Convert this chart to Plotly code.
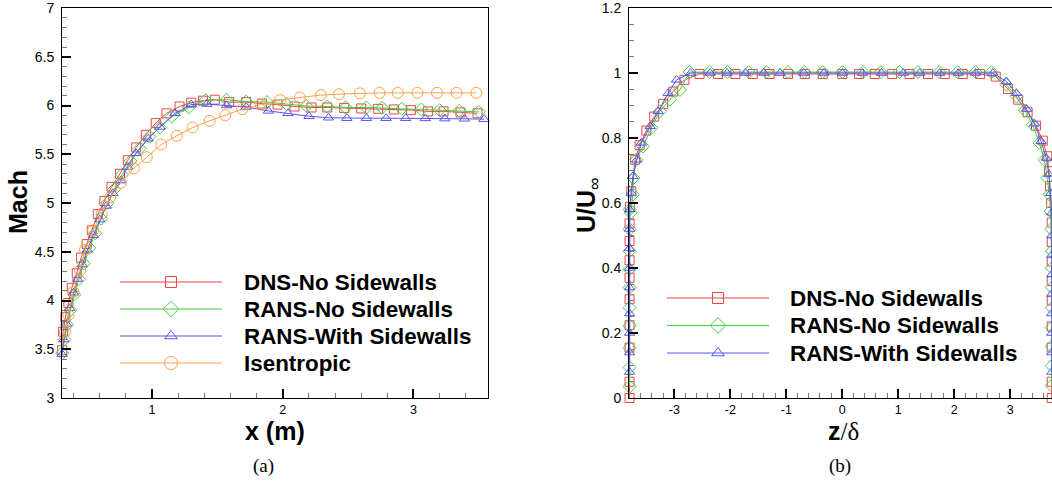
import plotly.graph_objects as go

# ---------------- data: panel (a)  Mach vs x (m) ----------------
dns_x = [0.312, 0.32, 0.337, 0.36, 0.386, 0.424, 0.457, 0.50, 0.539, 0.585, 0.635, 0.69, 0.755, 0.814,
         0.878, 0.952, 1.028, 1.11, 1.21, 1.30, 1.39, 1.48, 1.59, 1.72, 1.84, 1.96, 2.09, 2.22, 2.34,
         2.47, 2.60, 2.73, 2.85, 2.98, 3.11, 3.23, 3.36, 3.49]
dns_m = [3.49, 3.68, 3.83, 3.975, 4.13, 4.28, 4.44, 4.58, 4.72, 4.886, 5.02, 5.166, 5.30, 5.44,
         5.57, 5.70, 5.82, 5.92, 5.99, 6.03, 6.05, 6.06, 6.035, 6.035, 6.02, 6.01, 5.99, 5.98, 5.98,
         5.975, 5.97, 5.966, 5.96, 5.953, 5.94, 5.94, 5.93, 5.92]

rns_x = [0.312, 0.33, 0.35, 0.375, 0.405, 0.44, 0.478, 0.52, 0.565, 0.61, 0.658, 0.71, 0.77, 0.835,
         0.905, 0.98, 1.06, 1.15, 1.28, 1.41, 1.57, 1.72, 1.88, 2.03, 2.18, 2.34, 2.48, 2.64, 2.76,
         2.91, 3.06, 3.20, 3.35, 3.50]
rns_m = [3.46, 3.60, 3.75, 3.90, 4.06, 4.22, 4.38, 4.54, 4.69, 4.84, 5.00, 5.14, 5.29, 5.43,
         5.56, 5.68, 5.775, 5.885, 5.98, 6.055, 6.06, 6.04, 6.035, 6.015, 5.995, 5.99, 5.98, 5.98, 5.977,
         5.966, 5.96, 5.953, 5.946, 5.935]

rsw_x = [0.312, 0.325, 0.345, 0.37, 0.40, 0.43, 0.465, 0.505, 0.55, 0.60, 0.65, 0.70, 0.76, 0.815,
         0.878, 0.97, 1.06, 1.176, 1.30, 1.42, 1.57, 1.72, 1.89, 2.04, 2.20, 2.35, 2.49, 2.64, 2.79,
         2.94, 3.09, 3.24, 3.39, 3.54]
rsw_m = [3.45, 3.60, 3.76, 3.92, 4.08, 4.22, 4.37, 4.52, 4.67, 4.83, 4.97, 5.10, 5.23, 5.37,
         5.51, 5.66, 5.78, 5.92, 6.01, 6.015, 6.00, 5.985, 5.945, 5.92, 5.89, 5.875, 5.87, 5.87, 5.87,
         5.87, 5.868, 5.866, 5.864, 5.86]

ise_x = [0.305, 0.334, 0.36, 0.398, 0.449, 0.487, 0.55, 0.615, 0.68, 0.76, 0.86, 0.96, 1.07, 1.19,
         1.31, 1.44, 1.56, 1.69, 1.83, 1.98, 2.13, 2.29, 2.43, 2.59, 2.74, 2.88, 3.03, 3.18, 3.33, 3.48]
ise_m = [3.50, 3.68, 3.85, 4.09, 4.31, 4.52, 4.72, 4.89, 5.06, 5.207, 5.355, 5.47, 5.60, 5.69,
         5.775, 5.843, 5.90, 5.963, 6.01, 6.056, 6.083, 6.107, 6.117, 6.125, 6.13, 6.13, 6.13, 6.13, 6.13, 6.13]

# ---------------- data: panel (b)  U/Uinf vs z/delta ----------------
dns_z = [-3.80, -3.80, -3.80, -3.80, -3.80, -3.80, -3.80, -3.80, -3.80, -3.795, -3.77, -3.70, -3.62,
         -3.50, -3.36, -3.20, -3.02, -2.82, -2.55, -2.22, -1.91, -1.60, -1.30, -0.97, -0.67, -0.35,
         0.0, 0.30, 0.58, 0.89, 1.20, 1.53, 1.83, 2.15, 2.46, 2.74, 2.96, 3.14, 3.31, 3.46, 3.58,
         3.66, 3.69, 3.71, 3.73, 3.74, 3.74, 3.74, 3.74, 3.74, 3.74, 3.74, 3.74, 3.74]
dns_u = [0.0, 0.05, 0.155, 0.224, 0.304, 0.37, 0.424, 0.483, 0.537, 0.588, 0.636, 0.733, 0.778,
         0.823, 0.866, 0.905, 0.943, 0.979, 0.997, 0.997, 0.997, 0.997, 0.997, 0.997, 0.997, 0.997,
         0.997, 0.997, 0.997, 0.997, 0.997, 0.997, 0.997, 0.997, 0.997, 0.989, 0.951, 0.918, 0.879,
         0.838, 0.792, 0.744, 0.698, 0.652, 0.60, 0.54, 0.48, 0.42, 0.36, 0.30, 0.22, 0.155, 0.05, 0.0]

rns_z = [-3.80, -3.80, -3.80, -3.80, -3.80, -3.80, -3.80, -3.80, -3.80, -3.80, -3.78, -3.74, -3.73,
         -3.68, -3.56, -3.41, -3.26, -3.08, -2.90, -2.73, -2.37, -2.05, -1.67, -1.35, -0.97, -0.68,
         -0.35, 0.0, 0.37, 0.69, 1.02, 1.35, 1.73, 2.06, 2.38, 2.66, 2.93, 3.11, 3.26, 3.40, 3.52,
         3.61, 3.66, 3.70, 3.72, 3.73, 3.74, 3.74, 3.74, 3.74, 3.74, 3.74, 3.74, 3.74]
rns_u = [0.035, 0.094, 0.155, 0.222, 0.278, 0.34, 0.396, 0.452, 0.519, 0.58, 0.57, 0.626, 0.677,
         0.733, 0.774, 0.831, 0.882, 0.918, 0.948, 1.003, 1.003, 1.003, 1.003, 1.003, 1.003, 1.003,
         1.003, 1.003, 1.003, 1.003, 1.003, 1.003, 1.003, 1.003, 1.003, 1.003, 0.964, 0.928, 0.885,
         0.841, 0.785, 0.733, 0.677, 0.626, 0.575, 0.52, 0.452, 0.40, 0.34, 0.278, 0.217, 0.159, 0.099, 0.038]

rsw_z = [-3.80, -3.80, -3.80, -3.80, -3.80, -3.80, -3.80, -3.80, -3.80, -3.77, -3.74, -3.67, -3.59,
         -3.43, -3.29, -3.11, -2.96, -2.71, -2.36, -2.06, -1.73, -1.40, -1.11, -0.69, -0.33, 0.0,
         0.36, 0.70, 1.09, 1.38, 1.74, 2.07, 2.38, 2.69, 2.93, 3.11, 3.29, 3.43, 3.55, 3.64, 3.69,
         3.72, 3.74, 3.74, 3.74, 3.74, 3.74, 3.74, 3.74, 3.74, 3.74]
rsw_u = [0.08, 0.14, 0.20, 0.26, 0.34, 0.40, 0.46, 0.52, 0.58, 0.631, 0.682, 0.733, 0.785,
         0.836, 0.882, 0.938, 0.979, 1.0, 1.0, 1.0, 1.0, 1.0, 1.0, 1.0, 1.0, 1.0,
         1.0, 1.0, 1.0, 1.0, 1.0, 1.0, 1.0, 1.0, 0.974, 0.938, 0.889, 0.844, 0.79, 0.739, 0.688,
         0.63, 0.57, 0.50, 0.44, 0.38, 0.32, 0.26, 0.20, 0.14, 0.08]

# tick labels
mach_ticks = [3, 3.5, 4, 4.5, 5, 5.5, 6, 6.5, 7]
mach_labels = ["3", "3.5", "4", "4.5", "5", "5.5", "6", "6.5", "7"]
x_ticks = [1, 2, 3]
x_labels = ["1", "2", "3"]
z_ticks = [-3, -2, -1, 0, 1, 2, 3]
z_labels = ["-3", "-2", "-1", "0", "1", "2", "3"]
u_ticks = [0, 0.2, 0.4, 0.6, 0.8, 1.0, 1.2]
u_labels = ["0", "0.2", "0.4", "0.6", "0.8", "1", "1.2"]

names = ["DNS-No Sidewalls", "RANS-No Sidewalls", "RANS-With Sidewalls", "Isentropic"]
colors = ["#ee4444", "#44cc44", "#5555f5", "#ffa04a"]
symbols = ["square-open", "diamond-open", "triangle-up-open", "circle-open"]
msizes = [9, 10, 9, 11]

left_series = [(dns_x, dns_m), (rns_x, rns_m), (rsw_x, rsw_m), (ise_x, ise_m)]
right_series = [(dns_z, dns_u), (rns_z, rns_u), (rsw_z, rsw_u)]

W, H = 1052, 489
MT, MB = 8, 91
FONT = "Liberation Sans"


def px(x):
    return x / W


def py(y):
    return (H - MB - y) / (H - MB - MT)


fig = go.Figure()

for i, (xs, ys) in enumerate(left_series):
    fig.add_trace(go.Scatter(x=xs, y=ys, mode="lines+markers", xaxis="x", yaxis="y",
                             line=dict(color=colors[i], width=1),
                             marker=dict(symbol=symbols[i], size=msizes[i], color=colors[i],
                                         line=dict(color=colors[i], width=1)),
                             cliponaxis=False, showlegend=False, name=names[i]))

for i, (xs, ys) in enumerate(right_series):
    fig.add_trace(go.Scatter(x=xs, y=ys, mode="lines+markers", xaxis="x2", yaxis="y2",
                             line=dict(color=colors[i], width=1),
                             marker=dict(symbol=symbols[i], size=msizes[i], color=colors[i],
                                         line=dict(color=colors[i], width=1)),
                             cliponaxis=False, showlegend=False, name=names[i]))

# ---- hand-drawn legends on a pixel overlay axis (x3/y3) ----
legends = [dict(x0=120, x1=222, xt=242, y0=282, dy=27, n=4),
           dict(x0=667, x1=769, xt=788, y0=298, dy=27.5, n=3)]
annotations = []
for lg in legends:
    for i in range(lg["n"]):
        yy = lg["y0"] + i * lg["dy"]
        fig.add_trace(go.Scatter(x=[lg["x0"], lg["x1"]], y=[yy, yy], mode="lines", xaxis="x3", yaxis="y3",
                                 line=dict(color=colors[i], width=1), showlegend=False, hoverinfo="skip"))
        fig.add_trace(go.Scatter(x=[(lg["x0"] + lg["x1"]) / 2], y=[yy], mode="markers", xaxis="x3", yaxis="y3",
                                 marker=dict(symbol=symbols[i], size=msizes[i] + 2, color=colors[i],
                                             line=dict(color=colors[i], width=1)),
                                 showlegend=False, hoverinfo="skip"))
        annotations.append(dict(x=px(lg["xt"]), y=py(yy), xref="paper", yref="paper",
                                text="<b>%s</b>" % names[i],
                                showarrow=False, xanchor="left", yanchor="middle",
                                font=dict(family=FONT, size=22.4, color="black")))


def ann(x, y, text, size, angle=0, family=FONT):
    annotations.append(dict(x=px(x), y=py(y), xref="paper", yref="paper", text=text, showarrow=False,
                            xanchor="center", yanchor="middle", textangle=angle,
                            font=dict(family=family, size=size, color="black")))


ann(18, 202, "<b>Mach</b>", 25, -90)
ann(275, 431, "<b>x (m)</b>", 25)
ann(588, 205, "<b>U/U</b><sub>∞</sub>", 25, -90)
ann(843, 431, "<b>z</b><span style='font-family:Liberation Serif'>/δ</span>", 25)
ann(263, 466, "(a)", 19, 0, "Liberation Serif")
ann(840, 466, "(b)", 19, 0, "Liberation Serif")

common = dict(showgrid=False, zeroline=False, showline=True, linecolor="black", linewidth=1,
              ticks="inside", ticklen=9, tickwidth=1.5, tickcolor="black",
              ticklabeloverflow="allow",
              tickfont=dict(family=FONT, size=12.5, color="black"))
yextra = dict(tickfont=dict(family=FONT, size=14, color="black"), ticklabelstandoff=4)


def minor(d):
    return dict(dtick=d, tick0=0, ticks="inside", ticklen=5, tickcolor="#777", tickwidth=1, showgrid=False)


x_left_px = (62, 488)
x_right_px = (629, 1052)

fig.update_layout(
    width=W, height=H, margin=dict(l=0, r=0, t=MT, b=MB),
    paper_bgcolor="white", plot_bgcolor="rgba(0,0,0,0)",
    showlegend=False,
    xaxis=dict(domain=[px(x_left_px[0]), px(x_left_px[1])], range=[0.311, 3.57],
               tickmode="array", tickvals=x_ticks, ticktext=x_labels,
               mirror=True, anchor="y", minor=minor(0.2), **common),
    yaxis=dict(domain=[0, 1], range=[3, 7.0005], tickmode="array", tickvals=mach_ticks, ticktext=mach_labels,
               mirror=True, anchor="x", minor=minor(0.1), **{**common, **yextra}),
    xaxis2=dict(domain=[px(x_right_px[0]), px(x_right_px[1])], range=[-3.81, 3.745],
                tickmode="array", tickvals=z_ticks, ticktext=z_labels,
                mirror=True, anchor="y2", minor=minor(0.2), **common),
    yaxis2=dict(domain=[0, 1], range=[0, 1.2001], tickmode="array", tickvals=u_ticks, ticktext=u_labels,
                mirror=False, anchor="x2", minor=minor(0.05), **{**common, **yextra}),
    xaxis3=dict(domain=[0, 1], range=[0, W], visible=False, anchor="y3", fixedrange=True),
    yaxis3=dict(domain=[0, 1], range=[H - MB, MT], visible=False, anchor="x3", fixedrange=True),
    annotations=annotations,
)

fig.write_html("out.html")
